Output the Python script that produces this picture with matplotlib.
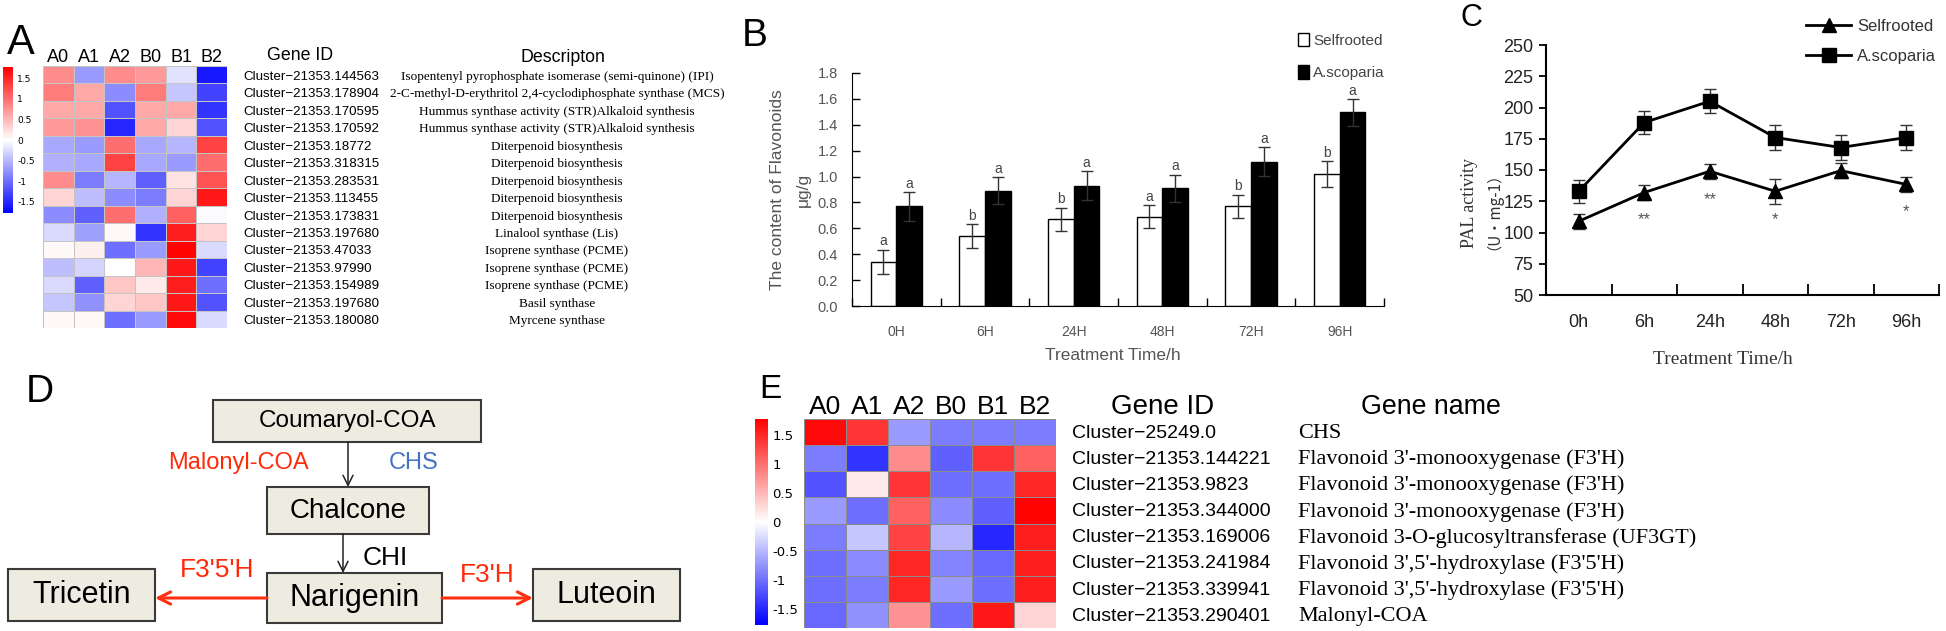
import matplotlib
matplotlib.use('Agg')
import numpy as np
import matplotlib.pyplot as plt
from matplotlib.colors import LinearSegmentedColormap, Normalize
from matplotlib.cm import ScalarMappable
from matplotlib.patches import Rectangle, Patch
from matplotlib.lines import Line2D
from matplotlib.transforms import blended_transform_factory

W, H = 1946, 631
SANS = 'Liberation Sans'
SERIF = 'Liberation Serif'

# ---- data ----
samples = ['A0', 'A1', 'A2', 'B0', 'B1', 'B2']

a_genes = ['Cluster\u221221353.144563', 'Cluster\u221221353.178904', 'Cluster\u221221353.170595',
           'Cluster\u221221353.170592', 'Cluster\u221221353.18772', 'Cluster\u221221353.318315',
           'Cluster\u221221353.283531', 'Cluster\u221221353.113455', 'Cluster\u221221353.173831',
           'Cluster\u221221353.197680', 'Cluster\u221221353.47033', 'Cluster\u221221353.97990',
           'Cluster\u221221353.154989', 'Cluster\u221221353.197680', 'Cluster\u221221353.180080']
a_desc = ['Isopentenyl pyrophosphate isomerase (semi-quinone) (IPI)',
          '2-C-methyl-D-erythritol 2,4-cyclodiphosphate synthase (MCS)',
          'Hummus synthase activity (STR)Alkaloid synthesis',
          'Hummus synthase activity (STR)Alkaloid synthesis',
          'Diterpenoid biosynthesis', 'Diterpenoid biosynthesis', 'Diterpenoid biosynthesis',
          'Diterpenoid biosynthesis', 'Diterpenoid biosynthesis',
          'Linalool synthase (Lis)',
          'Isoprene synthase (PCME)', 'Isoprene synthase (PCME)', 'Isoprene synthase (PCME)',
          'Basil synthase', 'Myrcene synthase']
a_expr = [[0.8, -0.7, 0.8, 0.7, -0.2, -1.6],
          [0.9, 0.6, -0.8, 0.9, -0.4, -1.3],
          [0.6, 0.6, -1.2, 0.6, 0.6, -1.4],
          [0.7, 0.75, -1.5, 0.6, 0.3, -1.2],
          [-0.6, -0.7, 1.0, -0.6, -0.5, 1.3],
          [-0.55, -0.6, 1.3, -0.6, -0.7, 1.0],
          [0.8, -0.9, -0.5, -1.1, 0.2, 1.2],
          [0.3, -0.45, -0.8, -0.9, 0.3, 1.6],
          [-0.8, -1.1, 1.0, -0.55, 1.1, -0.03],
          [-0.25, -0.65, 0.05, -1.4, 1.55, 0.3],
          [0.05, 0.1, -1.0, -0.7, 1.75, -0.25],
          [-0.45, -0.3, 0.0, 0.5, 1.6, -1.3],
          [-0.25, -1.1, 0.4, 0.15, 1.55, -1.0],
          [-0.4, -0.75, 0.3, 0.4, 1.6, -1.2],
          [0.05, 0.05, -1.0, -0.7, 1.7, -0.25]]

b_times = ['0H', '6H', '24H', '48H', '72H', '96H']
b_self = [0.34, 0.54, 0.67, 0.69, 0.77, 1.02]
b_self_err = [0.095, 0.09, 0.09, 0.09, 0.09, 0.10]
b_asc = [0.77, 0.89, 0.93, 0.91, 1.115, 1.495]
b_asc_err = [0.11, 0.105, 0.11, 0.105, 0.11, 0.105]
b_self_sig = ['a', 'b', 'b', 'a', 'b', 'b']
b_asc_sig = ['a', 'a', 'a', 'a', 'a', 'a']

c_times = ['0h', '6h', '24h', '48h', '72h', '96h']
c_self = [109, 132, 149, 133, 149.5, 138.5]
c_self_err = [6, 6, 6, 10, 6, 6]
c_asc = [133, 188, 205, 176, 168, 176]
c_asc_err = [9, 9, 9.5, 10, 10, 10]
c_stars = ['', '**', '**', '*', '', '*']
c_star_y = [np.nan, 110, 126, 110, np.nan, 117]

e_genes = ['Cluster\u221225249.0', 'Cluster\u221221353.144221', 'Cluster\u221221353.9823',
           'Cluster\u221221353.344000', 'Cluster\u221221353.169006', 'Cluster\u221221353.241984',
           'Cluster\u221221353.339941', 'Cluster\u221221353.290401']
e_names = ['CHS',
           "Flavonoid 3'-monooxygenase (F3'H)",
           "Flavonoid 3'-monooxygenase (F3'H)",
           "Flavonoid 3'-monooxygenase (F3'H)",
           'Flavonoid 3-O-glucosyltransferase (UF3GT)',
           "Flavonoid 3',5'-hydroxylase (F3'5'H)",
           "Flavonoid 3',5'-hydroxylase (F3'5'H)",
           'Malonyl-COA']
e_expr = [[1.7, 1.4, -0.7, -0.9, -0.9, -0.9],
          [-0.9, -1.4, 0.8, -1.1, 1.4, 1.1],
          [-1.2, 0.15, 1.4, -1.0, -1.0, 1.5],
          [-0.7, -1.0, 1.1, -0.8, -1.1, 1.75],
          [-0.9, -0.4, 1.3, -0.5, -1.5, 1.55],
          [-1.0, -0.8, 1.5, -0.85, -1.05, 1.55],
          [-1.0, -0.9, 1.5, -0.7, -1.0, 1.55],
          [-1.05, -0.75, 0.75, -1.0, 1.6, 0.3]]

cb_ticks = [1.5, 1, 0.5, 0, -0.5, -1, -1.5]
cb_labels = ['1.5', '1', '0.5', '0', '-0.5', '-1', '-1.5']

# ---- figure ----
fig = plt.figure(figsize=(W / 100, H / 100), dpi=100)
ov = fig.add_axes([0, 0, 1, 1])
ov.set_xlim(0, W)
ov.set_ylim(H, 0)
ov.axis('off')


def px_axes(x0, y0, x1, y1):
    return fig.add_axes([x0 / W, 1 - y1 / H, (x1 - x0) / W, (y1 - y0) / H])


cmap = LinearSegmentedColormap.from_list('bwr2', ['#0000ff', '#ffffff', '#ff0000'])
norm = Normalize(vmin=-1.77, vmax=1.77)


def heatmap(ax, data, edge, labsize):
    ax.pcolormesh(np.array(data), cmap=cmap, norm=norm, edgecolors=edge, linewidth=0.6)
    ax.set_xlim(0, 6)
    ax.set_ylim(len(data), 0)
    ax.axis('off')
    for j, s in enumerate(samples):
        ax.text(j + 0.5, -0.46, s, ha='center', va='center', fontsize=labsize, family=SANS)


def colorbar(cax, size):
    cb = fig.colorbar(ScalarMappable(norm=norm, cmap=cmap), cax=cax)
    cb.outline.set_visible(False)
    cb.set_ticks(cb_ticks)
    cb.set_ticklabels(cb_labels)
    cax.tick_params(length=0, labelsize=size, pad=3)


# ---- panel A ----
ax_a = px_axes(43, 66, 227, 328)
heatmap(ax_a, a_expr, '#c4c4c4', 13)
colorbar(px_axes(3, 67, 13, 213), 6.5)
tr_a = blended_transform_factory(ov.transData, ax_a.transData)
for i, (g, d) in enumerate(zip(a_genes, a_desc)):
    ax_a.text(243, i + 0.62, g, transform=tr_a, ha='left', va='center', fontsize=9.6, family=SANS, clip_on=False)
    ax_a.text(557, i + 0.62, d, transform=tr_a, ha='center', va='center', fontsize=9.5, family=SERIF, clip_on=False)
ov.text(300, 55, 'Gene ID', ha='center', va='center', fontsize=12.8, family=SANS)
ov.text(563, 57, 'Descripton', ha='center', va='center', fontsize=12.8, family=SANS)
ov.text(7, 43, 'A', ha='left', va='center', fontsize=30, family=SANS)

# ---- panel B ----
ax_b = px_axes(852, 73, 1384, 306)
x = np.arange(len(b_times))
bw = 0.29
ax_b.bar(x - bw / 2, b_self, bw, color='white', edgecolor='black', lw=1, zorder=2)
ax_b.bar(x + bw / 2, b_asc, bw, color='black', edgecolor='black', lw=1, zorder=2)
ax_b.errorbar(x - bw / 2, b_self, yerr=b_self_err, fmt='none', ecolor='#333333', elinewidth=1, capsize=4, zorder=3)
ax_b.errorbar(x + bw / 2, b_asc, yerr=b_asc_err, fmt='none', ecolor='#333333', elinewidth=1, capsize=4, zorder=3)
for i in range(len(b_times)):
    ax_b.text(x[i] - bw / 2, b_self[i] + b_self_err[i] + 0.01, b_self_sig[i], ha='center', va='bottom',
              fontsize=10, color='#444444', family=SANS)
    ax_b.text(x[i] + bw / 2, b_asc[i] + b_asc_err[i] + 0.01, b_asc_sig[i], ha='center', va='bottom',
              fontsize=10, color='#444444', family=SANS)
ax_b.set_xlim(-0.5, 5.5)
ax_b.set_ylim(0, 1.8)
ax_b.set_yticks(np.arange(0, 1.81, 0.2))
ax_b.set_yticklabels(['%.1f' % v for v in np.arange(0, 1.81, 0.2)])
ax_b.set_xticks(np.arange(-0.5, 6, 1))
ax_b.set_xticklabels([])
ax_b.set_xticks(x, minor=True)
ax_b.set_xticklabels(b_times, minor=True)
ax_b.tick_params(axis='x', which='major', direction='in', length=6, width=1)
ax_b.tick_params(axis='x', which='minor', length=0, pad=14, labelsize=10, labelcolor='#555555')
ax_b.tick_params(axis='y', direction='in', length=6, width=1, labelsize=10.5, labelcolor='#555555', pad=10)
for s in ['top', 'right']:
    ax_b.spines[s].set_visible(False)
for lab in ax_b.get_yticklabels() + ax_b.get_xticklabels(minor=True):
    lab.set_family(SANS)
ax_b.legend(handles=[Patch(facecolor='white', edgecolor='black'), Patch(facecolor='black', edgecolor='black')],
            labels=['Selfrooted', 'A.scoparia'], loc='upper left', bbox_to_anchor=(1298 / W, 1 - 33 / H),
            bbox_transform=fig.transFigure, frameon=False, handlelength=0.75, handleheight=0.95,
            handletextpad=0.25, labelspacing=1.15, prop={'family': SANS, 'size': 11}, labelcolor='#444444',
            borderaxespad=0, borderpad=0)
ov.text(777, 190, 'The content of Flavonoids', rotation=90, ha='center', va='center', fontsize=12.5,
        color='#555555', family=SANS)
ov.text(803, 190, '\u03bcg/g', rotation=90, ha='center', va='center', fontsize=12.5, color='#555555', family=SANS)
ov.text(1113, 356, 'Treatment Time/h', ha='center', va='center', fontsize=12.5, color='#555555', family=SANS)
ov.text(742, 36, 'B', ha='left', va='center', fontsize=28, family=SANS)

# ---- panel C ----
ax_c = px_axes(1546, 45, 1939, 295)
xc = np.arange(len(c_times))
ax_c.errorbar(xc, c_asc, yerr=c_asc_err, color='black', lw=2, marker='s', ms=9.5, ecolor='#333333',
              elinewidth=1, capsize=4, zorder=3)
ax_c.errorbar(xc, c_self, yerr=c_self_err, color='black', lw=2, marker='^', ms=9.5, ecolor='#333333',
              elinewidth=1, capsize=4, zorder=3)
for i in range(len(c_times)):
    if c_stars[i]:
        ax_c.text(xc[i], c_star_y[i], c_stars[i], ha='center', va='center', fontsize=12, color='#555555',
                  family=SANS)
ax_c.set_xlim(-0.5, 5.5)
ax_c.set_ylim(50, 250)
ax_c.set_yticks(np.arange(50, 251, 25))
ax_c.set_xticks(np.arange(-0.5, 6, 1))
ax_c.set_xticklabels([])
ax_c.set_xticks(xc, minor=True)
ax_c.set_xticklabels(c_times, minor=True)
ax_c.tick_params(axis='x', which='major', direction='in', length=8, width=1.3)
ax_c.tick_params(axis='x', which='minor', length=0, pad=14, labelsize=13, labelcolor='#222222')
ax_c.tick_params(axis='y', direction='out', length=5, width=1.3, labelsize=13, labelcolor='#222222', pad=4)
for s in ['top', 'right']:
    ax_c.spines[s].set_visible(False)
for s in ['left', 'bottom']:
    ax_c.spines[s].set_linewidth(1.5)
for lab in ax_c.get_yticklabels() + ax_c.get_xticklabels(minor=True):
    lab.set_family(SANS)
ax_c.legend(handles=[Line2D([], [], color='black', lw=2, marker='^', ms=9.5),
                     Line2D([], [], color='black', lw=2, marker='s', ms=9.5)],
            labels=['Selfrooted', 'A.scoparia'], loc='upper left', bbox_to_anchor=(1806 / W, 1 - 19 / H),
            bbox_transform=fig.transFigure, frameon=False, handlelength=2.7, handletextpad=0.35,
            labelspacing=0.9, prop={'family': SANS, 'size': 12}, labelcolor='#333333',
            borderaxespad=0, borderpad=0)
ov.text(1469, 203, 'PAL activity', rotation=90, ha='center', va='center', fontsize=13, color='#333333',
        family=SERIF)
ov.text(1486, 203, '\uff08U\u00b7mg-1\uff09', rotation=90, ha='center', va='center', fontsize=11,
        color='#333333', family=['Noto Sans CJK SC', SERIF])
ov.text(1723, 360, 'Treatment Time/h', ha='center', va='center', fontsize=14, color='#333333', family=SERIF)
ov.text(1461, 18, 'C', ha='left', va='center', fontsize=22, family=SANS)

# ---- panel D ----
box_fc, box_ec = '#eeece1', '#3a3a3a'
boxes = [('Coumaryol-COA', 213, 400, 481, 442, 17.5),
         ('Chalcone', 267, 487, 429, 534, 20),
         ('Narigenin', 267, 573, 442, 623, 22),
         ('Tricetin', 8, 569, 155, 621, 22),
         ('Luteoin', 533, 569, 680, 621, 22)]
for label, x0, y0, x1, y1, fs in boxes:
    ov.add_patch(Rectangle((x0, y0), x1 - x0, y1 - y0, facecolor=box_fc, edgecolor=box_ec, lw=1.5))
    ov.text((x0 + x1) / 2, (y0 + y1) / 2, label, ha='center', va='center', fontsize=fs, family=SANS)
ov.annotate('', xy=(348, 487), xytext=(348, 442),
            arrowprops=dict(arrowstyle='->', color='#222222', lw=1.1, shrinkA=0, shrinkB=0, mutation_scale=18))
ov.annotate('', xy=(343, 573), xytext=(343, 534),
            arrowprops=dict(arrowstyle='->', color='#222222', lw=1.1, shrinkA=0, shrinkB=0, mutation_scale=18))
ov.annotate('', xy=(155, 598), xytext=(267, 598),
            arrowprops=dict(arrowstyle='->', color='#ff3010', lw=2.2, shrinkA=0, shrinkB=0, mutation_scale=22))
ov.annotate('', xy=(533, 598), xytext=(442, 598),
            arrowprops=dict(arrowstyle='->', color='#ff3010', lw=2.2, shrinkA=0, shrinkB=0, mutation_scale=22))
ov.text(238, 463, 'Malonyl-COA', ha='center', va='center', fontsize=17, color='#ff2a0a', family=SANS)
ov.text(414, 463, 'CHS', ha='center', va='center', fontsize=17, color='#4472c4', family=SANS)
ov.text(385, 558, 'CHI', ha='center', va='center', fontsize=19, family=SANS)
ov.text(217, 570, "F3'5'H", ha='center', va='center', fontsize=19, color='#ff2a0a', family=SANS)
ov.text(487, 575, "F3'H", ha='center', va='center', fontsize=19, color='#ff2a0a', family=SANS)
ov.text(26, 392, 'D', ha='left', va='center', fontsize=28, family=SANS)

# ---- panel E ----
ax_e = px_axes(804, 419, 1056, 628)
heatmap(ax_e, e_expr, '#8c8c8c', 19)
colorbar(px_axes(755, 419, 768, 625), 9.5)
tr_e = blended_transform_factory(ov.transData, ax_e.transData)
for i, (g, n) in enumerate(zip(e_genes, e_names)):
    ax_e.text(1072, i + 0.55, g, transform=tr_e, ha='left', va='center', fontsize=14, family=SANS, clip_on=False)
    ax_e.text(1298, i + 0.55, n, transform=tr_e, ha='left', va='center', fontsize=16, family=SERIF, clip_on=False)
ov.text(1163, 407, 'Gene ID', ha='center', va='center', fontsize=20, family=SANS)
ov.text(1431, 407, 'Gene name', ha='center', va='center', fontsize=19.3, family=SANS)
ov.text(759, 389, 'E', ha='left', va='center', fontsize=24, family=SANS)

fig.savefig('out.png', dpi=100)
